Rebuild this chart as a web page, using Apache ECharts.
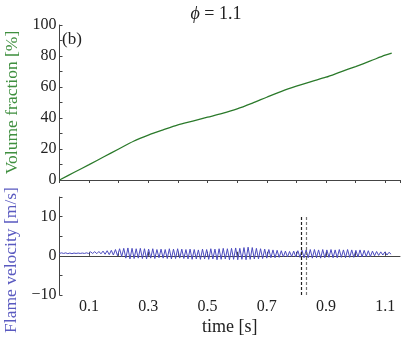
<!DOCTYPE html>
<html>
<head>
<meta charset="utf-8">
<script src="https://cdn.jsdelivr.net/npm/echarts@6/dist/echarts.min.js"></script>
<style>
  html, body { margin: 0; padding: 0; background: #fff; }
  #chart { width: 411px; height: 343px; }
</style>
</head>
<body>
<div id="chart"></div>
<script>
// volume fraction [%] vs time [s]
const volTime = [0, 0.05, 0.1, 0.15, 0.2, 0.25, 0.3, 0.35, 0.4, 0.45, 0.5, 0.55, 0.6, 0.65, 0.7, 0.75, 0.8, 0.85, 0.9, 0.95, 1.0, 1.05, 1.1, 1.122]
const volValues = [0, 5, 9.9, 15, 20, 25, 29, 32.4, 35.6, 38, 40.5, 43, 45.9, 49.5, 53.4, 57.2, 60.5, 63.5, 66.3, 69.8, 73.2, 76.8, 80.5, 81.8]

const velStep = 0.007
const velValues = [
  0.6, 0.75, 0.6, 0.75, 0.55, 0.7, 0.55, 0.7, 0.6, 0.7, 0.6, 0.7, 0.6, 0.75,
  0.6, 1.0, 0.6, 1.05, 0.55, 1.1, 0.5, 1.2, 0.4, 1.3,
  0.3, 1.4, 0.2, 1.6, 0.0, 1.8, -0.2,
  1.9, -0.6, 2.0, -0.8, 1.9, -0.7, 1.8, -0.6, 1.9, -0.7, 1.8, -0.8, 1.7, -0.6, 1.8, -0.7, 1.6, -0.5, 1.7, -0.6, 1.6, -0.7, 1.8, -0.8, 1.7, -0.7, 1.8, -0.6, 1.7, -0.7,
  1.6, -0.8, 1.7, -0.9, 1.6, -0.8, 1.5, -0.9, 1.7, -0.8, 1.6, -0.9, 1.8, -0.8, 1.7, -1.0, 1.8, -0.9, 1.9, -0.8, 1.8, -1.0, 1.9, -0.9, 2.0, -1.0, 1.9, -0.9, 2.1, -1.0,
  2.2, -0.9, 2.1, -0.8, 1.9, -0.8, 1.8, -0.7, 1.7, -0.6, 1.6, -0.5, 1.5, -0.5, 1.4, -0.4, 1.3, -0.3, 1.2, -0.3,
  1.1, -0.2, 1.2, -0.3, 1.3, -0.4, 1.4, -0.5, 1.5, -0.5, 1.6, -0.6, 1.6, -0.5, 1.5, -0.6, 1.6, -0.5, 1.5, -0.4,
  1.6, -0.5, 1.5, -0.5, 1.6, -0.4, 1.5, -0.5, 1.6, -0.4, 1.5, -0.4, 1.4, -0.3, 1.5, -0.3, 1.4, -0.2, 1.3, -0.2,
  1.2, 0.0, 1.1, 0.1, 1.0, 0.2, 1.0, 0.2, 0.9, 0.4
]

// dashed markers (time window)
const markTimes = [0.815, 0.833]
const markColors = ['#222', '#777']

const xTickLabels = ['0.1', '0.3', '0.5', '0.7', '0.9', '1.1']
const topYLabels = [0, 20, 40, 60, 80, 100]
const bottomYLabels = [-10, 0, 10]

const font = 'Liberation Serif'
const axisColor = '#444'
const textColor = '#222'

const chart = echarts.init(document.getElementById('chart'))

const volData = volTime.map((t, i) => [t, volValues[i]])
const velData = velValues.map((v, i) => [i * velStep, v])

const xBase = {
  type: 'value',
  min: 0,
  max: 1.15,
  interval: 0.1,
  splitLine: { show: false },
  axisLine: { show: true, lineStyle: { color: axisColor, width: 1 } }
}

chart.setOption({
  animation: false,
  title: {
    text: '{i|ϕ} = 1.1',
    left: 211,
    top: 0,
    textAlign: 'center',
    textStyle: {
      fontFamily: font,
      fontSize: 18,
      fontWeight: 'normal',
      color: textColor,
      rich: { i: { fontFamily: font, fontStyle: 'italic', fontSize: 18, color: textColor } }
    }
  },
  graphic: [{
    type: 'text',
    left: 62,
    top: 31,
    style: { text: '(b)', font: '17px "Liberation Serif"', fill: textColor }
  }],
  grid: [
    { left: 59.5, right: 11, top: 25, height: 155, outerBoundsMode: 'none' },
    { left: 59.5, right: 11, top: 197, height: 98, outerBoundsMode: 'none' }
  ],
  xAxis: [
    Object.assign({}, xBase, {
      gridIndex: 0,
      axisTick: { show: true, inside: false, length: 3, lineStyle: { color: axisColor } },
      axisLabel: { show: false }
    }),
    Object.assign({}, xBase, {
      gridIndex: 1,
      name: 'time [s]',
      nameLocation: 'middle',
      nameGap: 23,
      nameTextStyle: { fontFamily: font, fontSize: 18, color: textColor },
      axisTick: { show: true, inside: true, length: 4, lineStyle: { color: axisColor } },
      axisLabel: {
        fontFamily: font,
        fontSize: 16,
        color: textColor,
        margin: 4,
        formatter: (v) => {
          const s = v.toFixed(1)
          return xTickLabels.includes(s) ? s : ''
        }
      }
    })
  ],
  yAxis: [
    {
      type: 'value',
      gridIndex: 0,
      min: 0,
      max: 100,
      interval: 10,
      name: 'Volume fraction [%]',
      nameLocation: 'middle',
      nameGap: 38,
      nameTextStyle: { fontFamily: font, fontSize: 17.5, color: '#3f8f3f' },
      splitLine: { show: false },
      axisLine: { show: true, lineStyle: { color: axisColor } },
      axisTick: { show: true, inside: true, length: 3, lineStyle: { color: axisColor } },
      axisLabel: {
        fontFamily: font,
        fontSize: 16,
        color: textColor,
        margin: 3,
        formatter: (v) => topYLabels.includes(Math.round(v)) ? String(Math.round(v)) : ''
      }
    },
    {
      type: 'value',
      gridIndex: 1,
      min: -10,
      max: 15,
      interval: 5,
      name: 'Flame velocity [m/s]',
      nameLocation: 'middle',
      nameGap: 38,
      nameTextStyle: { fontFamily: font, fontSize: 17.5, color: '#5a5ac0', padding: [0, 28, 0, 0] },
      splitLine: { show: false },
      axisLine: { show: true, lineStyle: { color: axisColor } },
      axisTick: { show: true, inside: true, length: 3, lineStyle: { color: axisColor } },
      axisLabel: {
        fontFamily: font,
        fontSize: 16,
        color: textColor,
        margin: 3,
        formatter: (v) => bottomYLabels.includes(Math.round(v)) ? String(Math.round(v)).replace('-', '\u2212') : ''
      }
    }
  ],
  series: [
    {
      type: 'line',
      xAxisIndex: 0,
      yAxisIndex: 0,
      data: volData,
      smooth: 0.3,
      symbol: 'none',
      lineStyle: { color: '#2b7a2b', width: 1.3 }
    },
    {
      type: 'line',
      xAxisIndex: 1,
      yAxisIndex: 1,
      data: velData,
      symbol: 'none',
      lineStyle: { color: '#4b4bbf', width: 1 },
      markLine: {
        silent: true,
        symbol: 'none',
        label: { show: false },
        data: markTimes.map((t, i) => [
          { coord: [t, -10], lineStyle: { color: markColors[i], type: [3, 2], width: 1.2 } },
          { coord: [t, 10] }
        ])
      }
    }
  ]
})
</script>
</body>
</html>
